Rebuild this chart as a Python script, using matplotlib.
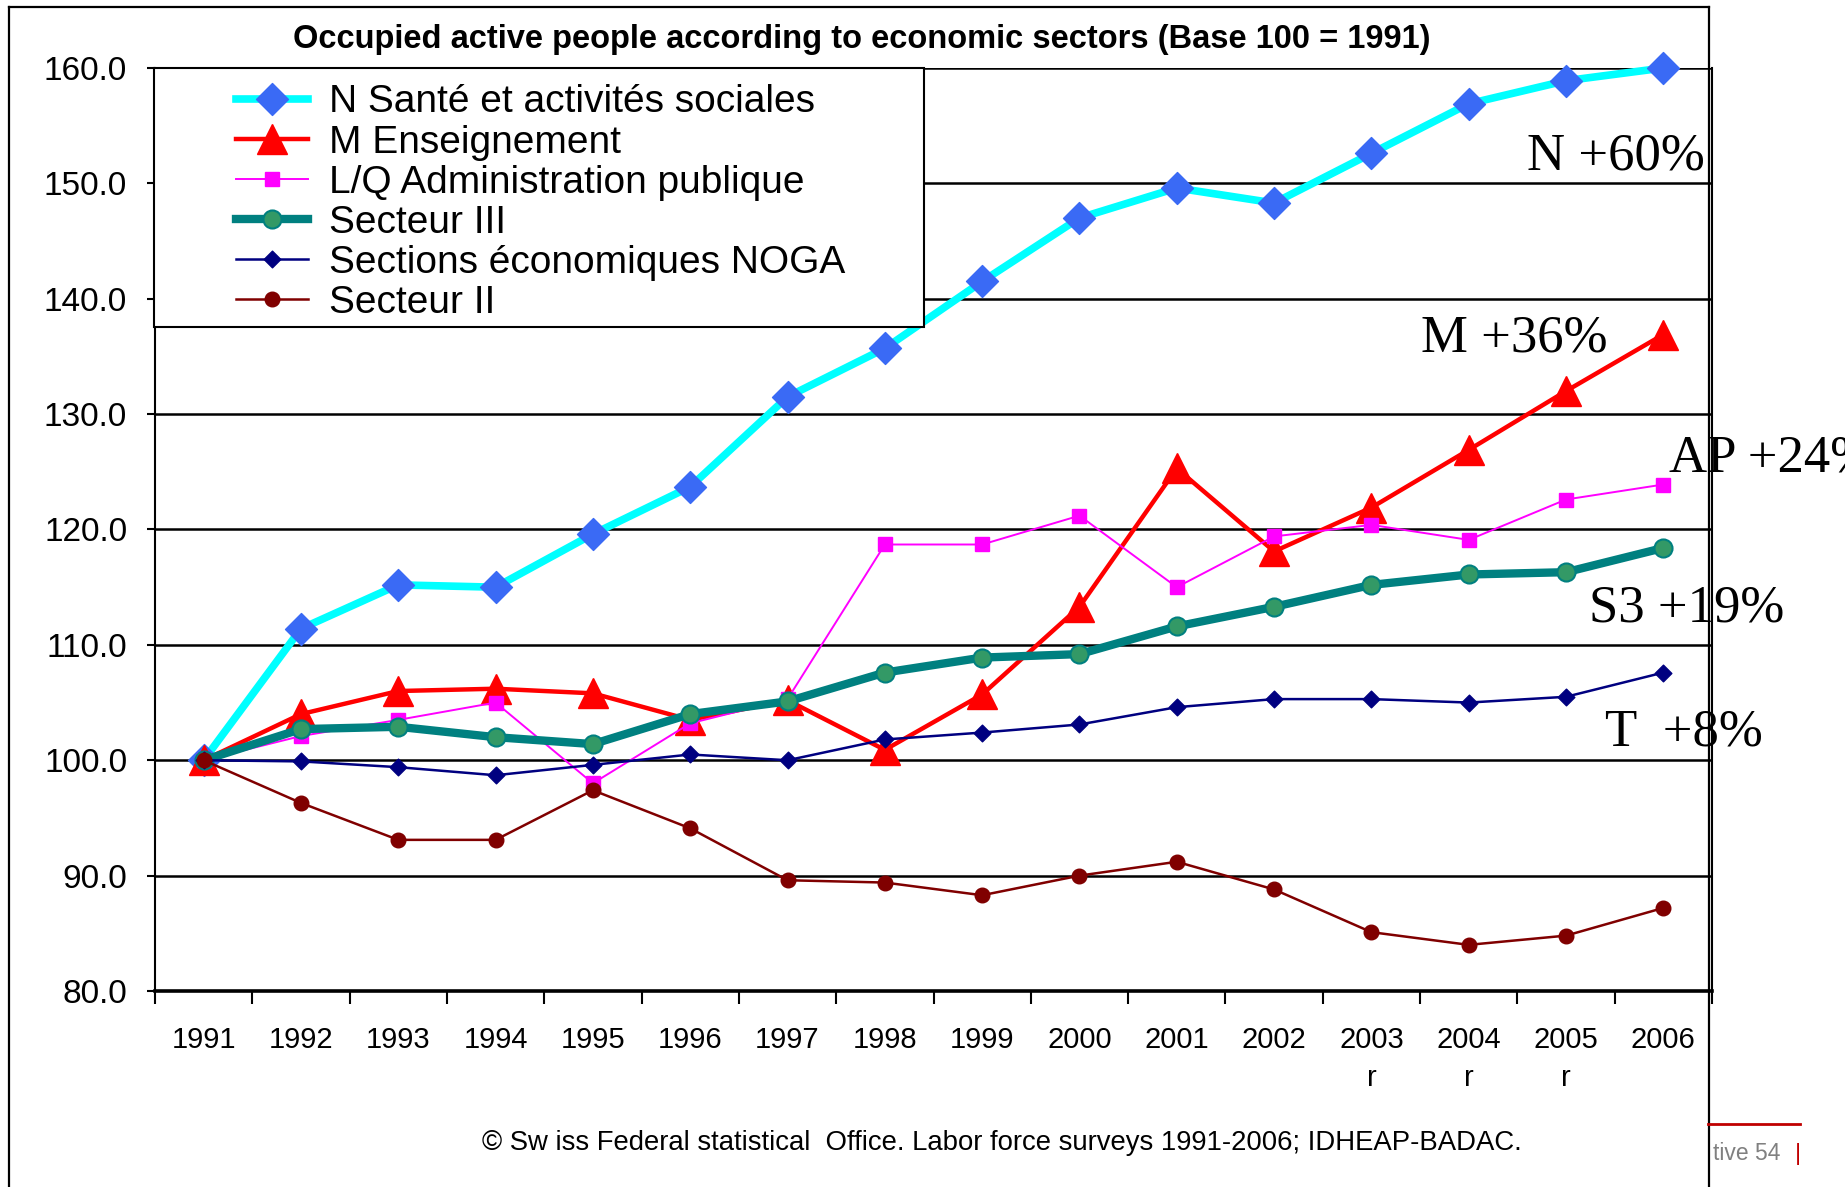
import matplotlib
matplotlib.use("Agg")
import matplotlib.pyplot as plt
from matplotlib.path import Path
from matplotlib.patches import Rectangle
from matplotlib.lines import Line2D
import numpy as np

# ---------------- data ----------------
years = ["1991", "1992", "1993", "1994", "1995", "1996", "1997", "1998",
         "1999", "2000", "2001", "2002", "2003", "2004", "2005", "2006"]
revised = ["", "", "", "", "", "", "", "", "", "", "", "", "r", "r", "r", ""]

sante = [100.0, 111.4, 115.2, 115.0, 119.6, 123.7, 131.5, 135.7,
         141.5, 147.0, 149.6, 148.3, 152.6, 156.9, 158.9, 160.0]
enseignement = [100.0, 104.0, 106.0, 106.2, 105.8, 103.5, 105.2, 100.9,
                105.7, 113.3, 125.3, 118.1, 121.9, 126.9, 132.0, 136.9]
administration = [100.0, 102.1, 103.5, 105.0, 98.0, 103.2, 105.3, 118.7,
                  118.7, 121.2, 115.0, 119.4, 120.4, 119.1, 122.6, 123.9]
secteur3 = [100.0, 102.7, 102.9, 102.0, 101.4, 104.0, 105.1, 107.6,
            108.9, 109.2, 111.6, 113.3, 115.2, 116.1, 116.3, 118.4]
noga = [100.0, 99.9, 99.4, 98.7, 99.6, 100.5, 100.0, 101.8,
        102.4, 103.1, 104.6, 105.3, 105.3, 105.0, 105.5, 107.6]
secteur2 = [100.0, 96.3, 93.1, 93.1, 97.4, 94.1, 89.6, 89.4,
            88.3, 90.0, 91.2, 88.8, 85.1, 84.0, 84.8, 87.2]

series_labels = ["N Santé et activités sociales", "M Enseignement",
                 "L/Q Administration publique", "Secteur III",
                 "Sections économiques NOGA", "Secteur II"]
growth_labels = ["N +60%", "M +36%", "AP +24%", "S3 +19%", "T  +8%"]
title = "Occupied active people according to economic sectors (Base 100 = 1991)"
source = "© Sw iss Federal statistical  Office. Labor force surveys 1991-2006; IDHEAP-BADAC."

# ---------------- figure ----------------
W, H = 1845, 1187
fig = plt.figure(figsize=(W / 100, H / 100), dpi=100)
fig.patch.set_facecolor("white")
SANS = ["Liberation Sans", "DejaVu Sans"]
SERIF = ["Liberation Serif", "DejaVu Serif"]


def fx(px):
    return px / W


def fy(py):
    return 1 - py / H


ax = fig.add_axes([fx(155), fy(991), (1712 - 155) / W, (991 - 68) / H])
x = np.arange(len(years))

diamond = Path([(0, 1), (1, 0), (0, -1), (-1, 0), (0, 1)],
               [Path.MOVETO, Path.LINETO, Path.LINETO, Path.LINETO, Path.CLOSEPOLY])

ax.plot(x, sante, color="#00FFFF", lw=5.5, marker=diamond, ms=23,
        mfc="#3A6AF5", mec="#3A6AF5", label=series_labels[0], clip_on=False, zorder=3)
ax.plot(x, enseignement, color="#FF0000", lw=3.2, marker="^", ms=21,
        mfc="#FF0000", mec="#FF0000", label=series_labels[1], clip_on=False, zorder=3)
ax.plot(x, administration, color="#FF00FF", lw=1.4, marker="s", ms=10,
        mfc="#FF00FF", mec="#FF00FF", label=series_labels[2], clip_on=False, zorder=3)
ax.plot(x, secteur3, color="#008080", lw=6, marker="o", ms=13,
        mfc="#339966", mec="#008080", mew=1.5, label=series_labels[3], clip_on=False, zorder=3)
ax.plot(x, noga, color="#000080", lw=1.8, marker=diamond, ms=12,
        mfc="#000080", mec="#000080", label=series_labels[4], clip_on=False, zorder=3)
ax.plot(x, secteur2, color="#800000", lw=1.8, marker="o", ms=10.5,
        mfc="#800000", mec="#800000", label=series_labels[5], clip_on=False, zorder=3)

ax.set_xlim(-0.5, len(years) - 0.5)
ax.set_ylim(80, 160)
ax.set_yticks(np.arange(80, 161, 10))
ax.set_yticklabels([f"{v:.1f}" for v in np.arange(80, 161, 10)],
                   fontsize=24, family=SANS)
ax.set_xticks(x)
ax.set_xticklabels([y + ("\n" + r if r else "") for y, r in zip(years, revised)],
                   fontsize=21, family=SANS, linespacing=1.45)
ax.set_xticks(np.arange(-0.5, len(years)), minor=True)
ax.tick_params(axis="x", which="major", length=0, pad=25)
ax.tick_params(axis="x", which="minor", length=9, width=1.5, color="black")
ax.tick_params(axis="y", length=6, width=1.5, pad=14)

ax.yaxis.grid(True, color="black", lw=1.8)
ax.set_axisbelow(True)
ax.spines["top"].set_visible(False)
ax.spines["left"].set_linewidth(1.5)
ax.spines["right"].set_linewidth(1.5)
ax.spines["bottom"].set_linewidth(2.6)

# title
fig.text(fx(862), fy(39.5), title, ha="center", va="center",
         fontsize=23.5, fontweight="bold", family=SANS)

# growth annotations
ann_pos = [(1527, 170), (1421, 352), (1669, 471), (1589, 621), (1605, 745)]
for lab, (px, py) in zip(growth_labels, ann_pos):
    fig.text(fx(px), fy(py), lab, ha="left", va="baseline",
             fontsize=38, family=SERIF)

# legend frame + legend
fig.add_artist(Rectangle((fx(154), fy(327)), (924 - 154) / W, (327 - 68) / H,
                         transform=fig.transFigure, facecolor="white",
                         edgecolor="black", lw=1.5, zorder=4))
handles, labels = ax.get_legend_handles_labels()
leg = fig.legend(handles, labels, loc="upper left",
                 bbox_to_anchor=(fx(236), fy(84.5)), bbox_transform=fig.transFigure,
                 frameon=False, borderpad=0, borderaxespad=0,
                 handlelength=1.85, handletextpad=0.55, labelspacing=0.105,
                 prop={"family": SANS, "size": 28})
leg.set_zorder(5)

# source note
fig.text(fx(1002), fy(1143), source, ha="center", va="center",
         fontsize=19.8, family=SANS)

# outer frame
lw_f = 1.6
fig.add_artist(Line2D([fx(9), fx(9)], [fy(7), 0], color="black", lw=lw_f))
fig.add_artist(Line2D([fx(9), fx(1709)], [fy(7), fy(7)], color="black", lw=lw_f))
fig.add_artist(Line2D([fx(1709), fx(1709)], [fy(7), 0], color="black", lw=lw_f))

# slide footer residue
fig.add_artist(Line2D([fx(1708), fx(1800)], [fy(1124), fy(1124)], color="#C00000", lw=2))
fig.text(fx(1713), fy(1154), "tive 54", ha="left", va="center",
         fontsize=16.5, color="#808080", family=SANS)
fig.text(fx(1795), fy(1154), "|", ha="left", va="center",
         fontsize=17, color="#C00000", family=SANS)

fig.savefig("out.png", dpi=100)
